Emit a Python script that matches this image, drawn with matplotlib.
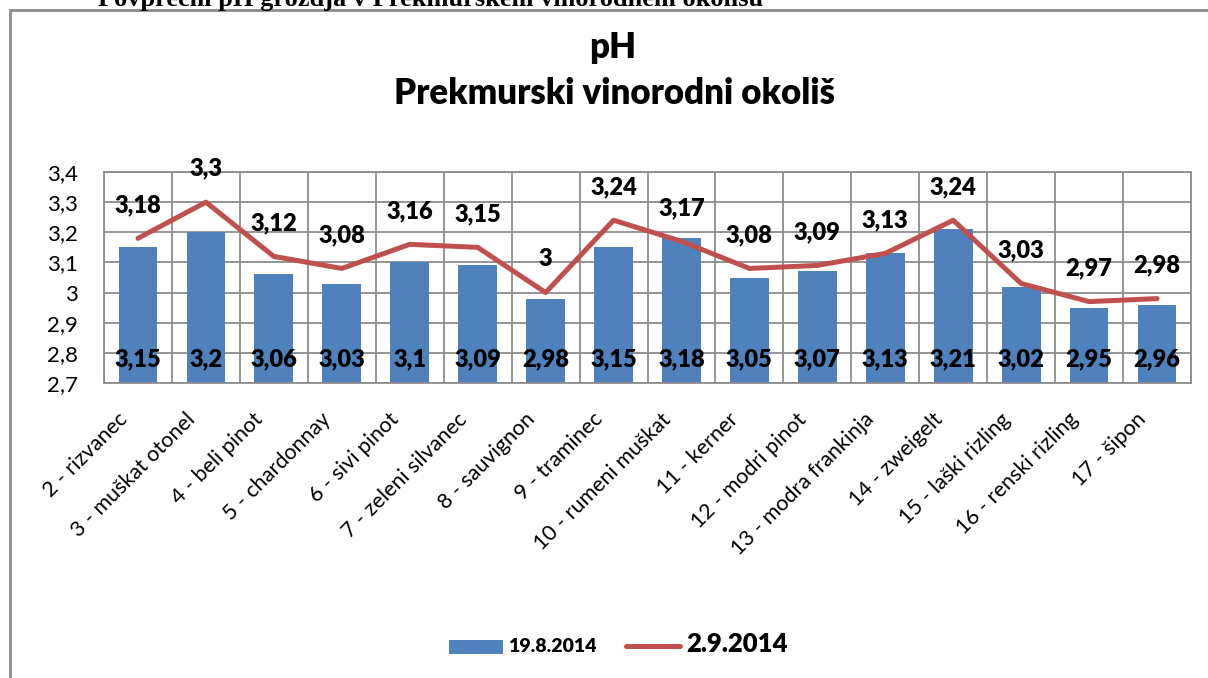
import matplotlib
matplotlib.use("Agg")
import matplotlib.pyplot as plt
import matplotlib.transforms as mtransforms
from matplotlib.patches import Rectangle, Patch
from matplotlib.lines import Line2D

categories = ["2 - rizvanec", "3 - muškat otonel", "4 - beli pinot", "5 - chardonnay",
              "6 - sivi pinot", "7 - zeleni silvanec", "8 - sauvignon", "9 - traminec",
              "10 - rumeni muškat", "11 - kerner", "12 - modri pinot", "13 - modra frankinja",
              "14 - zweigelt", "15 - laški rizling", "16 - renski rizling", "17 - šipon"]
ph_19_8 = [3.15, 3.20, 3.06, 3.03, 3.10, 3.09, 2.98, 3.15, 3.18, 3.05, 3.07, 3.13, 3.21, 3.02, 2.95, 2.96]
ph_2_9 = [3.18, 3.30, 3.12, 3.08, 3.16, 3.15, 3.00, 3.24, 3.17, 3.08, 3.09, 3.13, 3.24, 3.03, 2.97, 2.98]
yticks = [2.7, 2.8, 2.9, 3.0, 3.1, 3.2, 3.3, 3.4]
series_names = ["19.8.2014", "2.9.2014"]

plt.rcParams['font.family'] = ['Lato', 'DejaVu Sans']

W, H = 1208, 678
fig = plt.figure(figsize=(W / 100, H / 100), dpi=100)
fig.patch.set_facecolor('white')

def fx(px):
    return px / W

def fy(py):
    return 1 - py / H

# outer frame (cut off at right and bottom)
fig.add_artist(Rectangle((fx(10), -0.2), 1.2, fy(10) + 0.2, transform=fig.transFigure,
                         fill=False, edgecolor='#8c8c8c', linewidth=2, clip_on=False))

# cut-off heading text from the document
fig.text(fx(431), fy(6), "Povprečni pH grozdja v Prekmurskem vinorodnem okolišu",
         ha='center', va='baseline', fontsize=19, fontweight='bold',
         family=['Liberation Serif', 'DejaVu Serif'], color='black')

# titles
fig.text(fx(613), fy(48), "pH", ha='center', va='center', fontsize=25, fontweight='heavy')
fig.text(fx(615), fy(93), "Prekmurski vinorodni okoliš", ha='center', va='center',
         fontsize=25, fontweight='heavy')

ax = fig.add_axes([fx(104), fy(383), fx(1191) - fx(104), fy(172) - fy(383)])
x = list(range(len(categories)))

blue = '#4F81BD'
red = '#C0504D'
grid = '#8c8c8c'

ax.bar(x, [v - 2.7 for v in ph_19_8], bottom=2.7, width=0.57, color=blue, zorder=2,
       label=series_names[0])
ax.plot(x, ph_2_9, color=red, linewidth=3.6, zorder=3, solid_capstyle='round',
        label=series_names[1])

ax.set_xlim(-0.5, len(categories) - 0.5)
ax.set_ylim(2.7, 3.4)
ax.set_yticks(yticks)
ax.set_yticklabels([("%g" % t).replace('.', ',') for t in yticks], fontsize=16)

# gridlines
for t in yticks:
    ax.axhline(t, color=grid, linewidth=1.3, zorder=1)
for k in range(len(categories) + 1):
    ax.axvline(k - 0.5, color=grid, linewidth=1.3, zorder=1)
for s in ax.spines.values():
    s.set_color(grid)
    s.set_linewidth(1.3)

ax.tick_params(axis='both', length=0)
ax.tick_params(axis='y', pad=19)
ax.set_xticks(x)
ax.set_xticklabels(categories, rotation=45, ha='right', va='center',
                   rotation_mode='anchor', fontsize=15.5)
ax.tick_params(axis='x', pad=24)
offset = mtransforms.ScaledTranslation(-14 / 100, 0, fig.dpi_scale_trans)
for lbl in ax.get_xticklabels():
    lbl.set_transform(lbl.get_transform() + offset)

def fmt(v):
    return ("%g" % v).replace('.', ',')

for xi, v in zip(x, ph_19_8):
    ax.text(xi, 2.78, fmt(v), ha='center', va='center', fontsize=17,
            fontweight='heavy', zorder=4)
for xi, v in zip(x, ph_2_9):
    ax.annotate(fmt(v), (xi, v), xytext=(0, 24), textcoords='offset points',
                ha='center', va='center', fontsize=17, fontweight='heavy', zorder=4,
                annotation_clip=False)

handles = [Patch(facecolor=blue, edgecolor='none'),
           Line2D([0], [0], color=red, linewidth=3.6, solid_capstyle='round')]
leg = fig.legend(handles, series_names, loc='center', bbox_to_anchor=(fx(618), fy(644)),
                 ncol=2, frameon=False, handlelength=3.9, handleheight=1.2,
                 columnspacing=2.1, handletextpad=0.4)
texts = leg.get_texts()
texts[0].set_fontsize(14)
texts[0].set_fontweight('heavy')
texts[1].set_fontsize(18.5)
texts[1].set_fontweight('heavy')

fig.savefig("out.png", dpi=100, facecolor='white')
